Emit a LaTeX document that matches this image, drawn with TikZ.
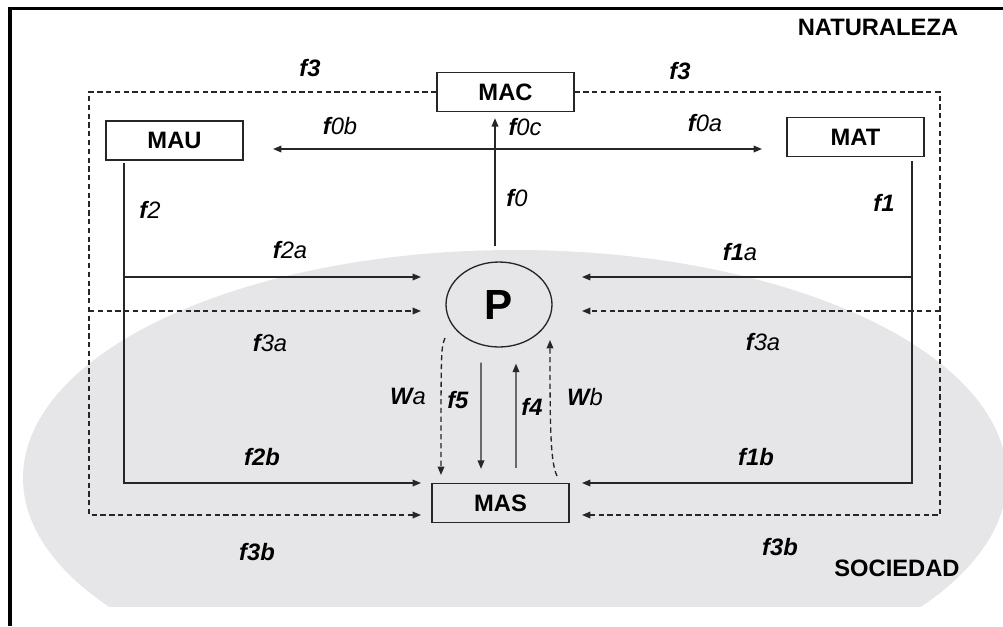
\documentclass[tikz,border=0pt]{standalone}
\usepackage{fontspec}
\setmainfont{Liberation Sans}
\usepackage{tikz}
\usetikzlibrary{shapes.geometric, arrows.meta, positioning}

\definecolor{sociedad}{HTML}{E6E6E8}
\newcommand{\flj}[2]{\textit{\textbf{#1}#2}}

\tikzset{
  caja/.style={draw=black!85, line width=0.75pt, minimum width=2.74cm,
               minimum height=0.78cm, inner sep=0pt,
               font=\fontsize{13.5}{15}\selectfont\bfseries},
  flecha/.style={draw=black!85, line width=0.75pt,
                 -{Triangle[length=4.8pt,width=3.8pt]}},
  flechas/.style={flecha, {Triangle[length=4.8pt,width=3.8pt]}-{Triangle[length=4.8pt,width=3.8pt]}},
  discont/.style={dash pattern=on 3pt off 2pt},
  etiq/.style={font=\fontsize{13.5}{15}\selectfont, inner sep=0pt},
}

\begin{document}
\begin{tikzpicture}[x=0.02cm, y=-0.02cm]
  \useasboundingbox (0,0) rectangle (1003,626);
  % fondo: sociedad
  \begin{scope}
    \clip (0,0) rectangle (1003,606);
    \fill[sociedad] (515,478) ellipse [x radius=492, y radius=228];
  \end{scope}
  \draw[line width=2.2pt] (10,626) -- (10,8.5) -- (1003,8.5);

  % cajas
  \node[caja] (mac) at (505.5,92) {MAC};
  \node[caja] (mau) at (174.5,140.5) {MAU};
  \node[caja] (mat) at (855.5,137) {MAT};
  \node[caja] (mas) at (500.5,503) {MAS};
  \node[ellipse, draw=black!85, line width=0.75pt, minimum width=2.12cm,
        minimum height=1.7cm, inner sep=0pt,
        font=\fontsize{24}{26}\selectfont\bfseries] (p) at (499,304.5) {P};

  % puntos de paso
  \coordinate (u0) at (124,163);
  \coordinate (t0) at (912,161);
  \coordinate (pIzq) at (421,277);
  \coordinate (pDer) at (582,277);
  \coordinate (pIzqD) at (421,311);
  \coordinate (pDerD) at (582,311);
  \coordinate (sIzq) at (421,483);
  \coordinate (sDer) at (582,483);
  \coordinate (sIzqD) at (421,515);
  \coordinate (sDerD) at (582,515);
  \coordinate (c3izq) at (89,515);
  \coordinate (c3der) at (940,515);
  \coordinate (f0izq) at (273,149);
  \coordinate (f0der) at (762,149);
  \coordinate (wa0) at (445,338);
  \coordinate (wa1) at (441,475);
  \coordinate (wb0) at (557,476);
  \coordinate (wb1) at (550,340);

  % flujos
  \draw[flecha] (u0) |- (sIzq);
  \draw[flecha] (u0 |- pIzq) -- (pIzq);
  \draw[flecha] (t0) |- (sDer);
  \draw[flecha] (t0 |- pDer) -- (pDer);
  \draw[flecha, discont] (mac.west) -| (c3izq) -- (sIzqD);
  \draw[flecha, discont] (c3izq |- pIzqD) -- (pIzqD);
  \draw[flecha, discont] (mac.east) -| (c3der) -- (sDerD);
  \draw[flecha, discont] (c3der |- pDerD) -- (pDerD);
  \draw[flechas] (f0izq) -- (f0der);
  \draw[flecha] ([xshift=-0.08cm, yshift=0.3cm]p.north)
    -- ([xshift=-0.08cm, yshift=-0.12cm]p.north |- mac.south);
  \draw[flecha] ([shift={(-0.36cm,-0.3cm)}]p.south)
    -- ([shift={(-0.39cm,0.28cm)}]mas.north);
  \draw[flecha] ([shift={(0.31cm,0.3cm)}]mas.north)
    -- ([shift={(0.34cm,-0.32cm)}]p.south);
  \draw[flecha, discont] (wa0) .. controls (441,348) .. (wa1);
  \draw[flecha, discont] (wb0) .. controls (550,462) and (550,420) .. (wb1);

  % etiquetas
  \node[etiq] (ef3i) at (310,68) {\flj{f3}{}};
  \node[etiq] (ef3d) at (680,71) {\flj{f3}{}};
  \node[etiq] (ef0b) at (340,126) {\flj{f}{0b}};
  \node[etiq] (ef0c) at (525,127) {\flj{f}{0c}};
  \node[etiq] (ef0a) at (705,123) {\flj{f}{0a}};
  \node[etiq] (ef2) at (150,210) {\flj{f}{2}};
  \node[etiq] (ef0) at (517,198) {\flj{f}{0}};
  \node[etiq] (ef1) at (884,203) {\flj{f1}{}};
  \node[etiq] (ef2a) at (290,250) {\flj{f}{2a}};
  \node[etiq] (ef1a) at (740,252) {\flj{f1}{a}};
  \node[etiq] (ef3ai) at (270,343) {\flj{f}{3a}};
  \node[etiq] (ef3ad) at (763,342) {\flj{f}{3a}};
  \node[etiq] (ewa) at (408,396) {\flj{W}{a}};
  \node[etiq] (ef5) at (458,400) {\flj{f5}{}};
  \node[etiq] (ef4) at (532,407) {\flj{f4}{}};
  \node[etiq] (ewb) at (585,397) {\flj{W}{b}};
  \node[etiq] (ef2b) at (262,457) {\flj{f2b}{}};
  \node[etiq] (ef1b) at (756,457) {\flj{f1b}{}};
  \node[etiq] (ef3bi) at (257,552) {\flj{f3b}{}};
  \node[etiq] (ef3bd) at (780,547) {\flj{f3b}{}};
  \node[etiq, font=\fontsize{13.5}{15}\selectfont\bfseries] (nat) at (878,27) {NATURALEZA};
  \node[etiq, font=\fontsize{13.5}{15}\selectfont\bfseries] (soc) at (897,568) {SOCIEDAD};
\end{tikzpicture}
\end{document}
